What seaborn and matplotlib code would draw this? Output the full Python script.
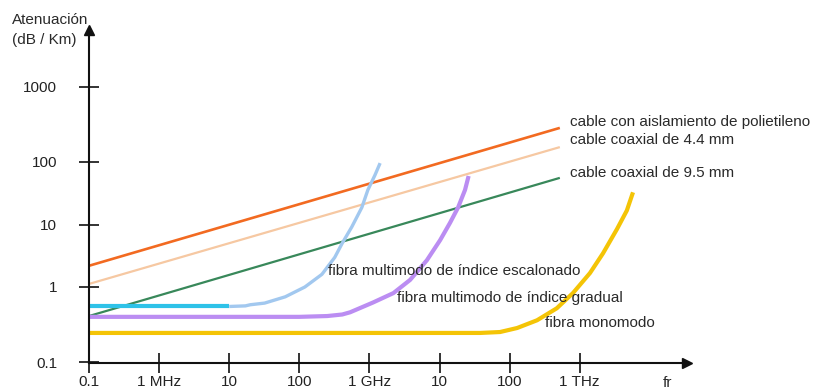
import numpy as np
import matplotlib
matplotlib.use("Agg")
import matplotlib.pyplot as plt
import seaborn as sns

# Frequencies in Hz, attenuation in dB/km
cable_f = [1e5, 5.2e11]
polietileno_db = [2.2, 285]
coax44_db = [1.12, 158]
coax95_db = [0.41, 56]

escalonado_flat_f = [1e5, 1e7]
escalonado_flat_db = [0.55, 0.55]

escalonado_f = [1.0e7, 1.7e7, 2.0e7, 3.2e7, 6.3e7, 1.2e8, 2.1e8, 3.2e8,
                4.1e8, 5.6e8, 7.8e8, 9.5e8, 1.2e9, 1.42e9]
escalonado_db = [0.55, 0.56, 0.58, 0.61, 0.74, 1.0, 1.6, 3.0,
                 5.1, 9.3, 19, 36, 62, 96]

gradual_f = [1e5, 1.0e8, 2.5e8, 4.1e8, 5.3e8, 1.12e9, 2.2e9, 3.8e9,
             6.6e9, 1.02e10, 1.41e10, 1.84e10, 2.31e10, 2.6e10]
gradual_db = [0.40, 0.40, 0.41, 0.43, 0.46, 0.62, 0.83, 1.3,
              2.7, 5.7, 10.8, 19, 36, 60]

monomodo_f = [1e5, 3.8e10, 7.3e10, 1.28e11, 2.46e11, 4.7e11, 8.0e11,
              1.4e12, 2.15e12, 3.4e12, 4.7e12, 5.75e12]
monomodo_db = [0.244, 0.244, 0.251, 0.284, 0.36, 0.52, 0.83,
               1.68, 3.5, 8.6, 17, 33]

x_ticks = [1e5, 1e6, 1e7, 1e8, 1e9, 1e10, 1e11, 1e12]
x_labels = ["0.1", "1 MHz", "10", "100", "1 GHz", "10", "100", "1 THz"]
y_ticks = [0.1, 1, 10, 100, 1000]
y_labels = ["0.1", "1", "10", "100", "1000"]

series_labels = [
    "cable con aislamiento de polietileno",
    "cable coaxial de 4.4 mm",
    "cable coaxial de 9.5 mm",
    "fibra multimodo de índice escalonado",
    "fibra multimodo de índice gradual",
    "fibra monomodo",
]

sns.set_theme(style="white")
plt.rcParams["font.family"] = ["Liberation Sans", "DejaVu Sans"]

W, H = 819, 392
fig = plt.figure(figsize=(W / 100, H / 100), dpi=100)

# axes spans the drawn axis lines (pixel coordinates of the canvas)
x0, x1, ybot, ytop = 89, 687, 363, 30
ax = fig.add_axes([x0 / W, (H - ybot) / H, (x1 - x0) / W, (ybot - ytop) / H])

# hand-drawn vertical log axis: decades are not evenly spaced
logs = np.array([-2, -1, 0, 1, 2, 3, 4, 5], dtype=float)
dist = np.array([-75, 0, 75, 137, 200, 275, 350, 425], dtype=float)


def fwd(y):
    y = np.asarray(y, dtype=float)
    with np.errstate(divide="ignore", invalid="ignore"):
        ly = np.log10(np.where(y > 0, y, 1e-300))
    return np.interp(ly, logs, dist)


def inv(d):
    return 10 ** np.interp(np.asarray(d, dtype=float), dist, logs)


ax.set_xscale("log")
ax.set_yscale("function", functions=(fwd, inv))

orange = "#F26A21"
peach = "#F6C8A2"
green = "#38885A"
cyan = "#2EC2E8"
lblue = "#A2C8EF"
purple = "#BB8DF2"
yellow = "#F4C406"

kw = dict(ax=ax, estimator=None, sort=False, legend=False)
sns.lineplot(x=cable_f, y=coax95_db, color=green, linewidth=1.6, **kw)
sns.lineplot(x=cable_f, y=coax44_db, color=peach, linewidth=1.6, **kw)
sns.lineplot(x=cable_f, y=polietileno_db, color=orange, linewidth=1.9, **kw)
sns.lineplot(x=monomodo_f, y=monomodo_db, color=yellow, linewidth=3.0, **kw)
sns.lineplot(x=gradual_f, y=gradual_db, color=purple, linewidth=3.0, **kw)
sns.lineplot(x=escalonado_f, y=escalonado_db, color=lblue, linewidth=2.4, **kw)
sns.lineplot(x=escalonado_flat_f, y=escalonado_flat_db, color=cyan, linewidth=3.0, **kw)
for ln in ax.get_lines():
    ln.set_solid_joinstyle("round")
    ln.set_solid_capstyle("butt")

ax.set_xlim(1e5, 10 ** 13.53)
ax.set_ylim(inv(-1), inv(332))

for s in ["top", "right"]:
    ax.spines[s].set_visible(False)
for s in ["left", "bottom"]:
    ax.spines[s].set_color("#111111")
    ax.spines[s].set_linewidth(1.5)

ax.set_xticks(x_ticks)
ax.set_xticklabels(x_labels)
ax.set_yticks(y_ticks)
ax.set_yticklabels(y_labels)
ax.minorticks_off()
ax.tick_params(axis="both", which="major", direction="inout", length=14,
               width=1.2, color="#111111", labelsize=11, labelcolor="#222222",
               bottom=True, left=True)
ax.tick_params(axis="x", pad=2)
ax.tick_params(axis="y", pad=16)
ax.grid(False)
ax.set_facecolor("white")

# arrow heads on the axes
ax.plot([0], [1], marker="^", markersize=7, color="#111111",
        transform=ax.transAxes, clip_on=False)
ax.plot([1], [0], marker=">", markersize=7, color="#111111",
        transform=ax.transAxes, clip_on=False)


def fig_text(px, py, s, **k):
    fig.text(px / W, 1 - py / H, s, fontsize=11, color="#2a2a2a",
             va="center", **k)


fig_text(12, 20, "Atenuación")
fig_text(12, 40, "(dB / Km)")
fig_text(663, 383, "fr")

fig_text(570, 122, series_labels[0])
fig_text(570, 140, series_labels[1])
fig_text(570, 173, series_labels[2])
fig_text(328, 271, series_labels[3])
fig_text(397, 298, series_labels[4])
fig_text(545, 323, series_labels[5])

fig.savefig("out.png", dpi=100, facecolor="white")
